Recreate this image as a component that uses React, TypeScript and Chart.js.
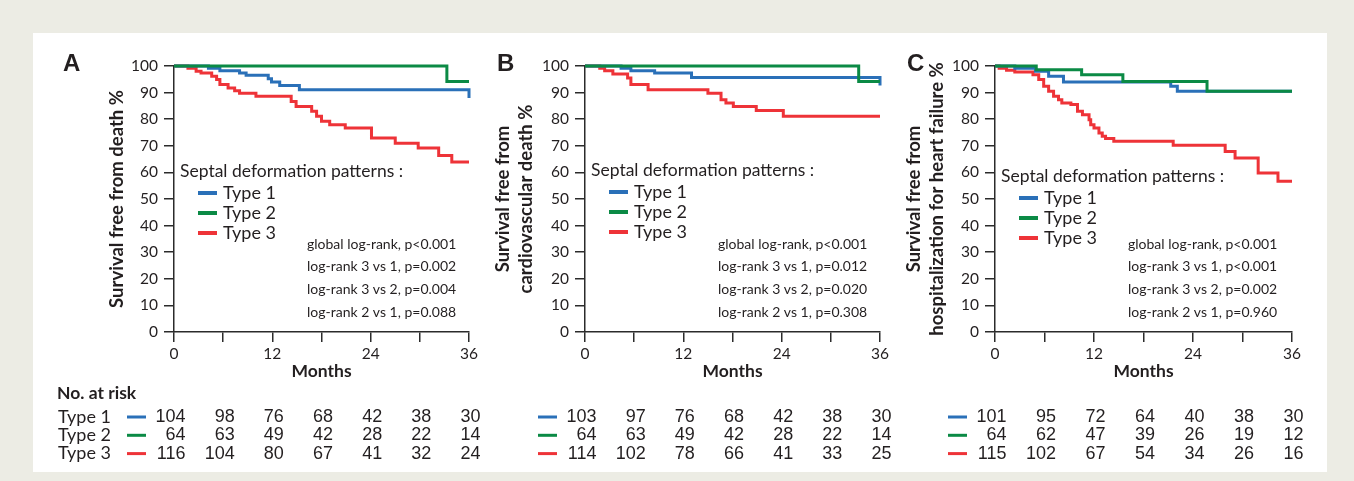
import React, { useEffect, useRef } from 'react';
import { Chart, registerables } from 'chart.js';

Chart.register(...registerables);

// ---------- data ----------
const MONTH_TICKS = [0, 6, 12, 18, 24, 30, 36];
const TYPE_LABELS = ['Type 1', 'Type 2', 'Type 3'];
const TYPE_COLORS = ['#2a70b8', '#0b8a45', '#ee3338'];
const LEGEND_TITLE = 'Septal deformation patterns :';

// Panel A: survival free from death (months, %)
const deathType1: [number, number][] = [[0, 100], [4.2, 99.2], [5.6, 98.2], [8.0, 97.4], [8.8, 96.5], [11.5, 95.2], [11.9, 94.0], [12.9, 92.7], [15.3, 91.1], [36, 88.0]];
const deathType2: [number, number][] = [[0, 100], [33.3, 94.2], [36, 94.2]];
const deathType3: [number, number][] = [[0, 100], [1.7, 99.2], [2.7, 98.0], [3.3, 97.4], [4.6, 96.1], [5.2, 94.9], [5.6, 93.0], [6.6, 91.7], [7.4, 90.7], [8.0, 89.8], [10.0, 88.6], [14.3, 86.7], [14.9, 84.8], [16.8, 83.0], [17.4, 81.1], [18.0, 79.2], [19.0, 77.9], [20.9, 76.7], [24.1, 72.9], [27.0, 71.0], [29.8, 69.2], [32.3, 66.4], [33.9, 63.9], [36, 63.9]];

// Panel B: survival free from cardiovascular death
const cvDeathType1: [number, number][] = [[0, 100], [4.4, 99.2], [5.6, 98.2], [8.5, 97.4], [13.0, 95.7], [36, 92.7]];
const cvDeathType2: [number, number][] = [[0, 100], [33.4, 94.2], [36, 94.2]];
const cvDeathType3: [number, number][] = [[0, 100], [1.8, 99.2], [2.4, 98.2], [3.4, 97.0], [5.2, 95.5], [5.6, 93.0], [7.7, 91.1], [15.0, 89.8], [16.6, 87.3], [17.2, 86.1], [18.1, 84.8], [20.9, 83.3], [24.2, 81.1], [36, 81.1]];

// Panel C: survival free from hospitalization for heart failure
const hfType1: [number, number][] = [[0, 100], [2.4, 99.2], [4.9, 98.0], [6.5, 96.1], [8.3, 94.0], [21.3, 92.4], [22.1, 90.5], [36, 90.5]];
const hfType2: [number, number][] = [[0, 100], [5.0, 98.6], [10.5, 96.7], [15.5, 94.2], [25.7, 90.5], [36, 90.5]];
const hfType3: [number, number][] = [[0, 100], [0.5, 99.2], [1.4, 98.4], [2.4, 97.7], [4.6, 96.7], [5.3, 94.9], [5.9, 92.4], [6.5, 90.5], [7.1, 88.6], [7.7, 87.3], [8.1, 86.1], [9.2, 85.5], [10.0, 83.0], [10.6, 81.7], [11.4, 79.8], [11.6, 77.9], [12.0, 76.7], [12.6, 74.8], [13.0, 73.6], [13.4, 72.7], [14.4, 71.7], [21.6, 70.2], [27.9, 67.9], [29.1, 65.4], [31.9, 59.8], [34.3, 56.7], [36, 56.7]];

// Numbers at risk
const riskDeath1 = [104, 98, 76, 68, 42, 38, 30];
const riskDeath2 = [64, 63, 49, 42, 28, 22, 14];
const riskDeath3 = [116, 104, 80, 67, 41, 32, 24];
const riskCv1 = [103, 97, 76, 68, 42, 38, 30];
const riskCv2 = [64, 63, 49, 42, 28, 22, 14];
const riskCv3 = [114, 102, 78, 66, 41, 33, 25];
const riskHf1 = [101, 95, 72, 64, 40, 38, 30];
const riskHf2 = [64, 62, 47, 39, 26, 19, 12];
const riskHf3 = [115, 102, 67, 54, 34, 26, 16];

// Statistics
const statsDeath = ['global log-rank, p<0.001', 'log-rank 3 vs 1, p=0.002', 'log-rank 3 vs 2, p=0.004', 'log-rank 2 vs 1, p=0.088'];
const statsCv = ['global log-rank, p<0.001', 'log-rank 3 vs 1, p=0.012', 'log-rank 3 vs 2, p=0.020', 'log-rank 2 vs 1, p=0.308'];
const statsHf = ['global log-rank, p<0.001', 'log-rank 3 vs 1, p<0.001', 'log-rank 3 vs 2, p=0.002', 'log-rank 2 vs 1, p=0.960'];

// ---------- drawing helpers ----------
const TEXT = '#231f20';
const AXIS = '#2b2b2b';
const UI_FONT = 'Lato';

interface PanelDef {
  letter: string;
  yTitle: string | string[];
  curves: [number, number][][];
  risk: number[][];
  stats: string[];
  left: number;
  width: number;
  padLeft: number;
  plotLeft: number;
  plotRight: number;
  legendY: number;
  rowLabels: boolean;
}

const CANVAS_H = 439;

const extrasPlugin = {
  id: 'panelExtras',
  afterDraw(chart: any, _args: any, opts: any) {
    const { ctx, chartArea } = chart;
    const xs = chart.scales.x;
    const L = chartArea.left;
    ctx.save();
    // panel letter
    ctx.fillStyle = TEXT;
    ctx.textBaseline = 'middle';
    ctx.textAlign = 'left';
    ctx.font = 'bold 24px "Liberation Sans"';
    ctx.fillText(opts.letter, opts.letterX, 31);

    // legend
    const ly = opts.legendY;
    ctx.font = `17.5px ${UI_FONT}`;
    ctx.fillText(LEGEND_TITLE, L + 6, ly);
    chart.data.datasets.forEach((ds: any, i: number) => {
      const y = ly + 22 + i * 20;
      ctx.strokeStyle = ds.borderColor;
      ctx.lineWidth = 4;
      ctx.beginPath();
      ctx.moveTo(L + 24, y);
      ctx.lineTo(L + 43, y);
      ctx.stroke();
      ctx.fillStyle = TEXT;
      ctx.font = `18px ${UI_FONT}`;
      ctx.fillText(ds.label, L + 49, y);
    });

    // stats
    ctx.font = `14px ${UI_FONT}`;
    opts.stats.forEach((s: string, i: number) => {
      ctx.fillText(s, L + 133, 211 + i * 22.7);
    });

    // risk table
    if (opts.rowLabels) {
      ctx.font = `bold 17.5px ${UI_FONT}`;
      ctx.fillText('No. at risk', 24, 360);
    }
    opts.risk.forEach((row: number[], r: number) => {
      const y = 384 + r * 18.3;
      const ds = chart.data.datasets[r];
      if (opts.rowLabels) {
        ctx.fillStyle = TEXT;
        ctx.textAlign = 'left';
        ctx.font = `18px ${UI_FONT}`;
        ctx.fillText(ds.label, L - 116, y);
      }
      ctx.strokeStyle = ds.borderColor;
      ctx.lineWidth = 3;
      ctx.beginPath();
      ctx.moveTo(L - 47, y);
      ctx.lineTo(L - 28, y);
      ctx.stroke();
      ctx.fillStyle = TEXT;
      ctx.textAlign = 'right';
      ctx.font = '18px "Liberation Sans"';
      row.forEach((n, k) => {
        ctx.fillText(String(n), xs.getPixelForValue(MONTH_TICKS[k]) + 11.5, y);
      });
    });
    ctx.restore();
  },
};

function Panel({ def }: { def: PanelDef }) {
  const ref = useRef<HTMLCanvasElement>(null);
  useEffect(() => {
    const tickFont = { family: UI_FONT, size: 15.5 };
    const titleFont = { family: UI_FONT, size: 18.5, weight: 'bold' as const, lineHeight: 1.24 };
    const chart = new Chart(ref.current!, {
      type: 'line',
      data: {
        datasets: def.curves.map((c, i) => ({
          label: TYPE_LABELS[i],
          data: c.map(([x, y]) => ({ x, y })),
          borderColor: TYPE_COLORS[i],
          backgroundColor: TYPE_COLORS[i],
          borderWidth: 3,
          stepped: 'before' as const,
          pointRadius: 0,
          fill: false,
          clip: false,
          order: [1, 0, 2][i],
        })),
      },
      options: {
        animation: false,
        responsive: false,
        layout: { padding: { left: def.padLeft, right: def.width - def.plotRight, top: 33, bottom: 90 } },
        plugins: {
          legend: { display: false },
          tooltip: { enabled: false },
          // @ts-ignore
          panelExtras: {
            letter: def.letter,
            letterX: def.plotLeft - (def.letter === 'A' ? 111 : 88),
            legendY: def.legendY,
            stats: def.stats,
            risk: def.risk,
            rowLabels: def.rowLabels,
          },
        },
        scales: {
          x: {
            type: 'linear',
            min: 0,
            max: 36,
            ticks: {
              stepSize: 6,
              autoSkip: false,
              maxRotation: 0,
              padding: 3,
              font: tickFont,
              color: TEXT,
              callback: (v: any) => (Number(v) % 12 === 0 ? String(v) : ''),
            },
            grid: { drawOnChartArea: false, drawTicks: true, tickLength: 10, color: AXIS, lineWidth: 1.5 },
            border: { display: true, color: AXIS, width: 1.5 },
            title: { display: true, text: 'Months', font: { family: UI_FONT, size: 17.5, weight: 'bold', lineHeight: 1.2 }, color: TEXT, padding: 0 },
            afterFit: (s: any) => { s.height = 50; },
          },
          y: {
            type: 'linear',
            min: 0,
            max: 100,
            ticks: { stepSize: 10, padding: 6, font: tickFont, color: TEXT },
            grid: { drawOnChartArea: false, drawTicks: true, tickLength: 10, color: AXIS, lineWidth: 1.5 },
            border: { display: true, color: AXIS, width: 1.5 },
            title: { display: true, text: def.yTitle, font: titleFont, color: TEXT, padding: 0 },
            afterFit: (s: any) => { s.width = def.plotLeft - def.padLeft; },
          },
        },
      },
      plugins: [extrasPlugin],
    } as any);
    return () => chart.destroy();
  }, [def]);
  return (
    <canvas
      ref={ref}
      width={def.width}
      height={CANVAS_H}
      style={{ position: 'absolute', left: def.left, top: 33, width: def.width, height: CANVAS_H }}
    />
  );
}

const PANELS: PanelDef[] = [
  {
    letter: 'A',
    yTitle: 'Survival free from death %',
    curves: [deathType1, deathType2, deathType3],
    risk: [riskDeath1, riskDeath2, riskDeath3],
    stats: statsDeath,
    left: 33, width: 457, padLeft: 73, plotLeft: 141, plotRight: 436,
    legendY: 138, rowLabels: true,
  },
  {
    letter: 'B',
    yTitle: ['Survival free from', 'cardiovascular death %'],
    curves: [cvDeathType1, cvDeathType2, cvDeathType3],
    risk: [riskCv1, riskCv2, riskCv3],
    stats: statsCv,
    left: 490, width: 410, padLeft: 2, plotLeft: 95, plotRight: 390,
    legendY: 137, rowLabels: false,
  },
  {
    letter: 'C',
    yTitle: ['Survival free from', 'hospitalization for heart failure %'],
    curves: [hfType1, hfType2, hfType3],
    risk: [riskHf1, riskHf2, riskHf3],
    stats: statsHf,
    left: 900, width: 427, padLeft: 3, plotLeft: 95, plotRight: 392,
    legendY: 143, rowLabels: false,
  },
];

export default function App() {
  return (
    <div style={{ position: 'absolute', left: 0, top: 0, width: 1354, height: 481, background: '#ecece4', overflow: 'hidden' }}>
      <div style={{ position: 'absolute', left: 33, top: 33, width: 1294, height: 439, background: '#ffffff' }} />
      {PANELS.map((p) => (
        <Panel key={p.letter} def={p} />
      ))}
    </div>
  );
}
